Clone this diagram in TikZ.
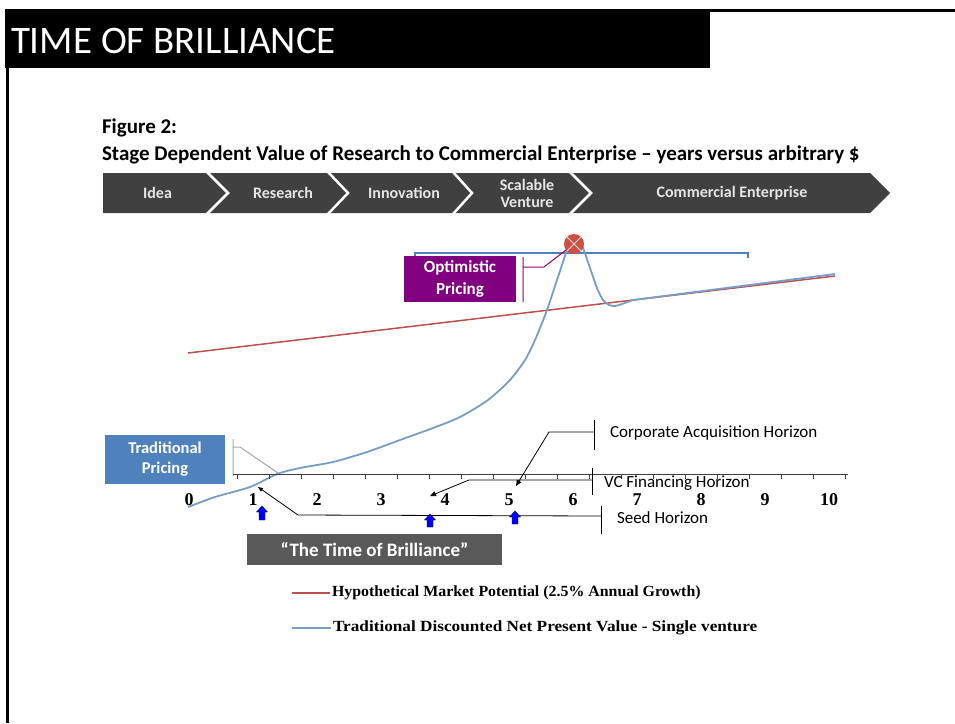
\documentclass[tikz,border=0pt]{standalone}
\usepackage{fontspec}
\setmainfont{Carlito}
\newfontfamily\timesf{Liberation Serif}
\usetikzlibrary{arrows.meta}
\definecolor{chev}{RGB}{64,64,64}
\definecolor{chevtext}{RGB}{230,230,230}
\definecolor{tradblue}{RGB}{79,129,189}
\definecolor{optpurple}{RGB}{128,0,128}
\definecolor{mktred}{RGB}{192,80,77}
\definecolor{npvblue}{RGB}{120,158,200}
\definecolor{brgray}{RGB}{89,89,89}
\definecolor{arrblue}{RGB}{0,0,230}
\definecolor{xred}{RGB}{205,80,70}
\tikzset{
  chevlabel/.style={text=chevtext, font=\bfseries\fontsize{16}{17}\selectfont, align=center},
  calltext/.style={anchor=west, font=\fontsize{17}{17}\selectfont},
  callline/.style={black, line width=0.8pt},
  axislab/.style={anchor=base, font=\timesf\bfseries\fontsize{18}{18}\selectfont},
  legtext/.style={anchor=west, font=\timesf\bfseries\fontsize{15.5}{16}\selectfont},
  npv/.style={npvblue, line width=1.8pt, line join=round},
  mkt/.style={mktred, line width=1.5pt},
  boxtext/.style={text=white, font=\bfseries\fontsize{16.5}{20}\selectfont, align=center},
  uparrow/.style={fill=arrblue, draw=blue!60!black, line width=0.4pt},
}
\begin{document}
\begin{tikzpicture}[x=1pt,y=-1pt, every node/.style={inner sep=0pt, outer sep=0pt}]
\useasboundingbox (0,0) rectangle (955,723);
\fill[white] (0,0) rectangle (955,723);
% title bar and frame
\node[fill=black, minimum width=705pt, minimum height=59pt, anchor=north west] (titlebar) at (5,9) {};
\node[anchor=base west, text=white, font=\fontsize{39}{39}\selectfont] (title) at (11,53) {TIME OF BRILLIANCE};
\coordinate (topL) at (709,10.5);
\coordinate (topR) at (955,10.5);
\draw[line width=3pt] (topL) -- (topR);
\coordinate (lbA) at (7,67);
\coordinate (lbB) at (7,723);
\draw[line width=3pt] (lbA) -- (lbB);
% figure caption
\node[anchor=base west, font=\bfseries\fontsize{21}{21}\selectfont] (fig) at (102,133) {Figure 2:};
\node[anchor=base west, font=\bfseries\fontsize{21}{21}\selectfont] (cap) at (102,160) {Stage Dependent Value of Research to Commercial Enterprise -- years versus arbitrary \$};
% chevron bar
\fill[chev] (103,173) -- (870,173) -- (890,193) -- (870,213) -- (103,213) -- cycle;
\foreach \a/\b in {207/228, 328/348, 453/472, 570/591}{
  \draw[white, line width=2.5pt] (\a,172) -- (\b,193) -- (\a,214);
}
\node[chevlabel] (idea) at (157.5,193) {Idea};
\node[chevlabel] (research) at (283,193) {Research};
\node[chevlabel] (innov) at (404,193) {Innovation};
\node[chevlabel] (scal) at (527,193) {Scalable\\Venture};
\node[chevlabel] (comm) at (732,193) {Commercial Enterprise};
% top bracket
\coordinate (brA) at (415,258);
\coordinate (brB) at (415,253);
\coordinate (brC) at (748,253);
\coordinate (brD) at (748,258);
\draw[tradblue, line width=1.3pt] (brA) -- (brB) -- (brC) -- (brD);
% market line
\coordinate (mA) at (188,353);
\coordinate (mB) at (835,276);
\draw[mkt] (mA) -- (mB);
% NPV curve
\draw[npv] plot[smooth, tension=0.45] coordinates {
 (188,507) (215,497) (250,487) (277,474) (300,468) (333,462) (367,452)
 (400,440) (433,428) (460,417) (488,400) (510,380) (525,360) (535,340)
 (547,310) (557,280) (563,262) (567,250) (572,241) (578,240) (583,248)
 (590,268) (597,288) (603,300) (609,305) (615,306) (622,304) (633,300)};
\draw[npv] (633,300) -- (835,274);
% peak marker
\node[circle, fill=xred, minimum size=20pt] (peak) at (574,244) {};
\draw[white!85!red, line width=1pt] (peak.north west) -- (peak.south east) (peak.north east) -- (peak.south west);
% optimistic pricing
\node[fill=optpurple, minimum width=112pt, minimum height=46pt, anchor=north west] (optbox) at (404,256) {};
\node[boxtext, font=\bfseries\fontsize{17}{22}\selectfont] (opttext) at (optbox.center) {Optimistic\\Pricing};
\coordinate (oA) at (523,257);
\coordinate (oB) at (523,302);
\coordinate (oC) at (523,267);
\coordinate (oD) at (544,267);
\coordinate (oE) at (566,250);
\draw[optpurple!80!red, line width=1pt] (oA) -- (oB) (oC) -- (oD) -- (oE);
% traditional pricing
\node[fill=tradblue, minimum width=120pt, minimum height=49pt, anchor=north west] (tradbox) at (105,435) {};
\node[boxtext] (tradtext) at (tradbox.center) {Traditional\\Pricing};
\coordinate (tA) at (233,439);
\coordinate (tB) at (233,476);
\coordinate (tC) at (233,447);
\coordinate (tD) at (240,447);
\coordinate (tE) at (278,473);
\draw[gray!70, line width=1pt] (tA) -- (tB) (tC) -- (tD) -- (tE);
% axis
\coordinate (ax0) at (233,474);
\coordinate (ax1) at (848,474);
\draw[black!75, line width=1pt] (ax0) -- (ax1);
\foreach \j in {0,...,19}{
  \draw[black!75, line width=0.8pt] ({237+32*\j},474) -- ++(0,5);
}
\foreach \n in {0,...,10}{
  \node[axislab] (lab\n) at ({189+64*\n},505) {\n};
}
% corporate acquisition horizon
\coordinate (cA) at (594,420);
\coordinate (cB) at (594,450);
\coordinate (cC) at (594,432);
\coordinate (cD) at (549,432);
\coordinate (cE) at (516,486);
\draw[callline] (cA) -- (cB);
\draw[callline, -{Triangle[length=6pt,width=5pt]}] (cC) -- (cD) -- (cE);
\node[calltext] (corp) at (610,433) {Corporate Acquisition Horizon};
% VC financing horizon
\coordinate (vA) at (592,468);
\coordinate (vB) at (592,495);
\coordinate (vC) at (592,480);
\coordinate (vD) at (469,480);
\coordinate (vE) at (430,496);
\draw[callline] (vA) -- (vB);
\draw[callline, -{Triangle[length=6pt,width=5pt]}] (vC) -- (vD) -- (vE);
\node[calltext] (vc) at (604,483) {VC Financing Horizon};
% seed horizon
\coordinate (sA) at (601,506);
\coordinate (sB) at (601,534);
\coordinate (sC) at (601,516);
\coordinate (sD) at (298,515);
\coordinate (sE) at (258,487);
\draw[callline] (sA) -- (sB);
\draw[callline, -{Triangle[length=5pt,width=4pt]}] (sC) -- (sD) -- (sE);
\node[calltext] (seed) at (617,518) {Seed Horizon};
% blue up arrows
\foreach \c/\t/\h in {262/506/14, 430/514/13, 515/511/13}{
  \fill[uparrow] (\c,\t) -- (\c+5.5,\t+6) -- (\c+3,\t+6) -- (\c+3,\t+\h) -- (\c-3,\t+\h) -- (\c-3,\t+6) -- (\c-5.5,\t+6) -- cycle;
}
% time of brilliance
\node[fill=brgray, minimum width=255pt, minimum height=31pt, anchor=north west] (tobbox) at (247,534) {};
\node[text=white, font=\bfseries\fontsize{19}{19}\selectfont] (tobtext) at (tobbox.center) {“The Time of Brilliance”};
% legend
\coordinate (l1A) at (292,593);
\coordinate (l1B) at (330,593);
\draw[mktred, line width=1.2pt] (l1A) -- (l1B);
\node[legtext] (leg1) at (332,593) {\scalebox{1.025}[1]{Hypothetical Market Potential (2.5\% Annual Growth)}};
\coordinate (l2A) at (292,628);
\coordinate (l2B) at (331,628);
\draw[npvblue, line width=1.2pt] (l2A) -- (l2B);
\node[legtext] (leg2) at (333,628) {\scalebox{1.11}[1]{Traditional Discounted Net Present Value - Single venture}};
\end{tikzpicture}
\end{document}
